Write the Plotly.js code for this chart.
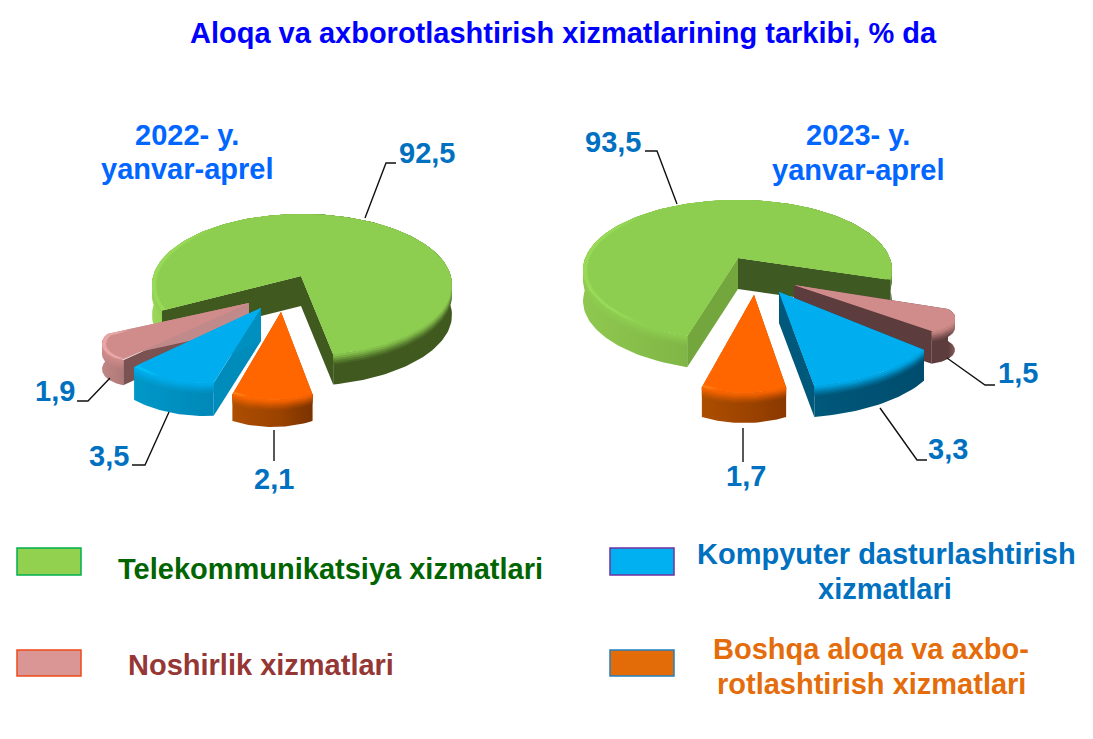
<!DOCTYPE html>
<html><head><meta charset="utf-8">
<script src="https://cdn.plot.ly/plotly-3.0.1.min.js"></script>
<style>html,body{margin:0;padding:0;background:#fff}#c{width:1093px;height:739px}</style>
</head><body><div id="c"></div>
<script>
// ---- data ----
const categories = ["Telekommunikatsiya xizmatlari","Noshirlik xizmatlari","Kompyuter dasturlashtirish xizmatlari","Boshqa aloqa va axborotlashtirish xizmatlari"];
const shares2022 = [92.5, 1.9, 3.5, 2.1];
const shares2023 = [93.5, 1.5, 3.3, 1.7];
const chartTitle = "Aloqa va axborotlashtirish xizmatlarining tarkibi, % da";
const period2022 = ["2022- y.","yanvar-aprel"];
const period2023 = ["2023- y.","yanvar-aprel"];

// ---- drawing style: order green, pink, blue, orange ----
const topColors = ["#8dce50","#d08c8a","#00aeef","#ff6600"];
const rimLeft2022 = [["#98da58","#8dce50"],["#e8a6a6","#d08c8a"],["#00c0f5","#00aeef"],["#ff7a10","#ff6600"]];
const rimLeft2023 = [["#98da58","#8dce50"],["#d08c8a","#d08c8a"],["#00aeef","#00aeef"],["#ff7a10","#ff6600"]];

// slice solid geometry in pixels: ellipse centre, radii, apex, start/end angle, depth, wall colours
const solids2022 = [
 {cx:302,cy:285,rx:150,ry:71,ax:301,ay:276,t0:78,t1:-201,d:30,w0:"#40591f",w1:"#40591f",wall:[[0,"#9ad85a"],[0.1,"#8cc84e"],[0.6,"#40591f"],[1,"#40591f"]]},
 {cx:132,cy:344,rx:30,ry:17,ax:249,ay:303,t0:107,t1:217,d:25,w0:"#7a5252",w1:"#c08a8a",wall:[[0,"#c08686"],[1,"#b07878"]]},
 {cx:205,cy:328,rx:100,ry:55,ax:261,ay:308,t0:85,t1:135,d:33,w0:"#008cba",w1:"#0090c0",wall:[[0,"#0098c8"],[1,"#0088b8"]]},
 {cx:272.5,cy:340,rx:91,ry:60,ax:281,ay:312,t0:64,t1:116,d:27,w0:"#a84c00",w1:"#a84c00",wall:[[0,"#ad4e00"],[0.6,"#9a4200"],[1,"#7a3300"]]}
];
const solids2023 = [
 {cx:737.5,cy:270,rx:154.5,ry:70,ax:738,ay:258,t0:109,t1:368,d:31,w0:"#74a63e",w1:"#3e5a22",wall:[[0,"#8fc850"],[0.35,"#7fb545"],[0.68,"#6a9a3a"],[0.9,"#3e5a22"],[1,"#3e5a22"]]},
 {cx:925,cy:318,rx:30,ry:14,ax:794,ay:285,t0:77,t1:-40,d:32,w0:"#5c3c3c",w1:"#5c3c3c",wall:[[0,"#5c3c3c"],[0.7,"#5c3c3c"],[1,"#8a5c5c"]]},
 {cx:787.5,cy:317,rx:154.5,ry:70,ax:779,ay:292,t0:80,t1:28,d:31,w0:"#00587a",w1:"#00587a",wall:[[0,"#00587a"],[1,"#004c6e"]]},
 {cx:744,cy:333,rx:96,ry:60,ax:754,ay:295,t0:64,t1:116,d:30,w0:"#a84c00",w1:"#a84c00",wall:[[0,"#ad4e00"],[0.6,"#9a4200"],[1,"#8a3800"]]}
];

// leader lines and label anchors in pixels
const leaders2022 = [[[365,218],[386,163],[396,163]],[[110,378],[88,401],[77,401]],[[169,412],[145,465],[132,465]],[[274,430],[274,461]]];
const leaders2023 = [[[677,204],[657,151],[645,151]],[[947,358],[985,385],[995,385]],[[880,408],[917,460],[927,460]],[[743,428],[743,462]]];
const labelXY2022 = [[427,153],[55,391],[109,456],[274,479]];
const labelXY2023 = [[613,142],[1018,373],[948,449],[746,476]];

// legend layout in pixels
const swatchBoxes = [[17,548,81,575],[17,650,81,676],[610,548,674,575],[610,650,674,676]];
const swatchFill = ["#92d050","#d99694","#00b0f0","#e36c09"];
const swatchEdge = ["#00b050","#f04a1a","#7030a0","#2080c0"];
const legendLines = ["Telekommunikatsiya xizmatlari","Noshirlik xizmatlari","Kompyuter dasturlashtirish","xizmatlari","Boshqa aloqa va axbo-","rotlashtirish xizmatlari"];
const legendXY = [[330,569],[261,665],[886,554],[885,589],[871,649],[871,684]];
const legendColor = ["#006400","#953735","#0070c0","#0070c0","#e46c0a","#e46c0a"];

const FONT = "Liberation Sans, Arial, sans-serif";
const TEXT_SIZE = 29;
const rad = Math.PI/180;
function rimPts(s, inset, dy){
  const n = Math.max(12, Math.round(Math.abs(s.t1-s.t0)/2)), xs=[], ys=[];
  const kx=(s.rx-inset)/s.rx;
  for(let i=0;i<=n;i++){
    const t=(s.t0+(s.t1-s.t0)*i/n)*rad;
    xs.push(s.cx+s.rx*kx*Math.cos(t));
    ys.push(s.cy+s.ry*kx*Math.sin(t)+dy);
  }
  return [xs,ys];
}
function poly(xs,ys,name,fill,grad){
  const tr={type:"scatter",mode:"lines",x:xs.concat(xs[0]),y:ys.concat(ys[0]),fill:"toself",
    line:{width:0,color:"rgba(0,0,0,0)"},hoverinfo:"skip",showlegend:false,name:name};
  if(grad) tr.fillgradient={type:"horizontal",colorscale:grad};
  else tr.fillcolor=fill;
  return tr;
}
function hex(c){return [1,3,5].map(i=>parseInt(c.substr(i,2),16));}
function mix(a,b,f){const A=hex(a),B=hex(b);return "rgb("+A.map((v,i)=>Math.round(v*(1-f)+B[i]*f)).join(",")+")";}
function band(s,h,name,grad){
  const [x1,y1]=rimPts(s,0,0),[x2,y2]=rimPts(s,0,h);
  return poly(x1.concat(x2.slice().reverse()),y1.concat(y2.slice().reverse()),name,null,grad);
}
const softSteps=[[10,0.12],[8,0.3],[6,0.5],[4,0.72],[2,0.9]];
function drawSolid(s,i,rim,name,val){
  const out=[], [rx,ry]=rimPts(s,0,0), last=rx.length-1;
  out.push(poly([s.ax,rx[0],rx[0],s.ax],[s.ay,ry[0],ry[0]+s.d,s.ay+s.d],name,s.w0));
  out.push(poly([s.ax,rx[last],rx[last],s.ax],[s.ay,ry[last],ry[last]+s.d,s.ay+s.d],name,s.w1));
  out.push(band(s,s.d,name,s.wall));
  softSteps.forEach(([h,f])=>{
    out.push(band(s,h,name,s.wall.map(([p,c])=>[p,mix(c,topColors[i],f)])));
  });
  out.push(poly([s.ax].concat(rx),[s.ay].concat(ry),name,null,[[0,rim[0]],[0.1,rim[0]],[0.2,rim[1]],[1,rim[1]]]));
  const topTr=poly([s.ax].concat(rimPts(s,4,0)[0]),[s.ay].concat(rimPts(s,4,0)[1]),name,topColors[i]);
  if(s.rx<50){ topTr.fillcolor=undefined; delete topTr.fillcolor; topTr.fillgradient={type:"horizontal",colorscale:[[0,topColors[i]],[1,topColors[i]]]}; }
  topTr.hoverinfo="text"; topTr.text=name+": "+String(val).replace(".",",")+"%"; topTr.hoveron="fills";
  out.push(topTr);
  return out;
}
const traces=[];
[[solids2022,shares2022,rimLeft2022,leaders2022],[solids2023,shares2023,rimLeft2023,leaders2023]].forEach(([sol,val,rim,lead])=>{
  sol.forEach((s,i)=>traces.push(...drawSolid(s,i,rim[i],categories[i],val[i])));
  lead.forEach(l=>traces.push({type:"scatter",mode:"lines",x:l.map(p=>p[0]),y:l.map(p=>p[1]),
    line:{color:"#111",width:1.4},hoverinfo:"skip",showlegend:false}));
});

const ann=[];
function text(x,y,t,color){
  ann.push({xref:"x",yref:"y",x:x,y:y,text:"<b>"+t+"</b>",showarrow:false,xanchor:"center",yanchor:"middle",align:"center",
    font:{family:FONT,size:TEXT_SIZE,color:color}});
}
text(563,33,chartTitle,"#0000ff");
period2022.forEach((t,i)=>text(187,135+i*34,t,"#0066ff"));
period2023.forEach((t,i)=>text(858,135+i*35,t,"#0066ff"));
shares2022.forEach((v,i)=>text(labelXY2022[i][0],labelXY2022[i][1],String(v).replace(".",","),"#0070c0"));
shares2023.forEach((v,i)=>text(labelXY2023[i][0],labelXY2023[i][1],String(v).replace(".",","),"#0070c0"));
legendLines.forEach((t,i)=>text(legendXY[i][0],legendXY[i][1],t,legendColor[i]));

const shapes=swatchBoxes.map((b,i)=>({type:"rect",xref:"x",yref:"y",x0:b[0],y0:b[1],x1:b[2],y1:b[3],
  fillcolor:swatchFill[i],line:{color:swatchEdge[i],width:1.5},layer:"above"}));

Plotly.newPlot("c",traces,{
  width:1093,height:739,margin:{l:0,r:0,t:0,b:0},paper_bgcolor:"#fff",plot_bgcolor:"#fff",showlegend:false,
  xaxis:{range:[0,1093],visible:false,fixedrange:true},
  yaxis:{range:[739,0],visible:false,fixedrange:true},
  annotations:ann,shapes:shapes,hovermode:"closest"
},{displayModeBar:false});
</script></body></html>
